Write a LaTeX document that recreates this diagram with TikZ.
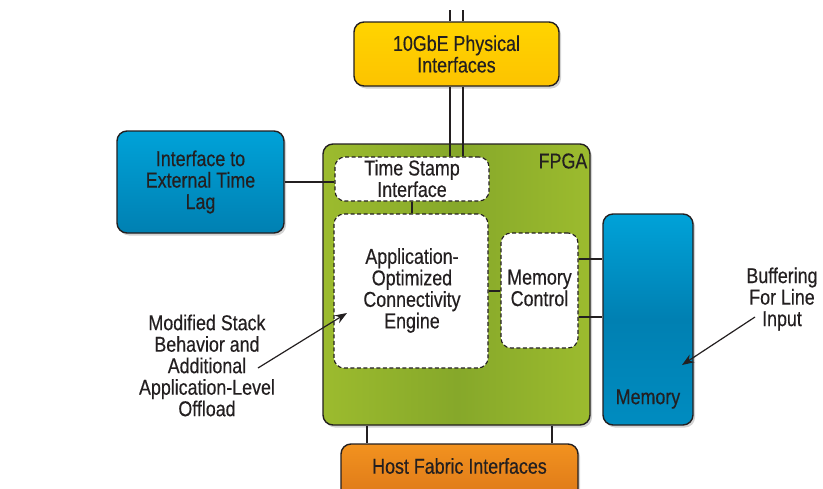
\documentclass[tikz,border=0pt]{standalone}
\usepackage{fontspec}
\setmainfont[FakeStretch=0.83,FakeBold=0.4]{Liberation Sans}
\usetikzlibrary{shadows,arrows.meta}
\definecolor{ink}{HTML}{231F20}
\definecolor{yelT}{HTML}{FFD400}
\definecolor{yelM}{HTML}{FDC300}
\definecolor{bluT}{HTML}{00A2D8}
\definecolor{bluM}{HTML}{0080B2}
\definecolor{bluB}{HTML}{008CC0}
\definecolor{grnE}{HTML}{9CBB2E}
\definecolor{grnM}{HTML}{86A82A}
\definecolor{orT}{HTML}{F2921F}
\definecolor{orM}{HTML}{DD7818}
\tikzset{
  txt/.style={font=\fontsize{21.5}{21.5}\selectfont, text=ink, align=center, inner sep=0pt},
  box/.style={draw=ink, line width=1.4pt, rounded corners=10pt, inner sep=0pt,
              drop shadow={shadow xshift=2pt, shadow yshift=-2.5pt, opacity=0.35}},
  dbox/.style={draw=ink, line width=1.1pt, dash pattern=on 4pt off 2.5pt, rounded corners=10pt,
              fill=white, inner sep=0pt},
  wire/.style={draw=ink, line width=2pt},
  pointer/.style={draw=ink, line width=1.2pt, -{Stealth[length=12pt,width=9pt]}},
}
\begin{document}
\begin{tikzpicture}[x=1pt,y=-1pt]
\useasboundingbox (0,0) rectangle (823,488);
% boxes
\node[box, top color=yelT, bottom color=yelM, minimum width=205pt, minimum height=64pt, txt] (phy) at (456.5,54) {10GbE Physical\\Interfaces};
\node[box, top color=bluT, bottom color=bluM, minimum width=167pt, minimum height=102pt, txt] (ext) at (200.5,182) {Interface to\\External Time\\Lag};
\node[box, left color=grnE, right color=grnE, middle color=grnM, minimum width=267pt, minimum height=281pt] (fpga) at (456.5,284.5) {};
\node[box, top color=bluT, bottom color=bluB, middle color=bluM, minimum width=90pt, minimum height=211pt] (mem) at (648,319.5) {};
\node[box, top color=orT, bottom color=orM, minimum width=237pt, minimum height=56pt] (host) at (459.5,472) {};
% inner dashed boxes
\node[dbox, minimum width=154pt, minimum height=44pt] (ts) at (412,179) {};
\node[dbox, minimum width=154pt, minimum height=154pt] (app) at (411,291) {};
\node[dbox, minimum width=77pt, minimum height=115pt] (mc) at (539.5,290.5) {};
% texts
\node[txt] (fpgalbl) at (563,161) {FPGA};
\node[txt] (tstxt) at (412,178.5) {Time Stamp\\Interface};
\node[txt] (apptxt) at (412,290.5) {Application-\\Optimized\\Connectivity\\Engine};
\node[txt] (mctxt) at (539.5,288) {Memory\\Control};
\node[txt] (memtxt) at (648,399) {Memory};
\node[txt] (hosttxt) at (459.5,466) {Host Fabric Interfaces};
\node[txt] (buf) at (782,299) {Buffering\\For Line\\Input};
\node[txt] (mod) at (207,365.5) {Modified Stack\\Behavior and\\Additional\\Application-Level\\Offload};
% wires
\coordinate (topA) at (450,10);
\coordinate (topB) at (463,10);
\draw[wire] (topA) -- (topA |- phy.north);
\draw[wire] (topB) -- (topB |- phy.north);
\draw[wire] (topA |- phy.south) -- (topA |- ts.north);
\draw[wire] (topB |- phy.south) -- (topB |- ts.north);
\draw[wire] (ext.east) -- (ts.west |- ext.east);
\draw[wire] (ts.south) -- (ts.south |- app.north);
\draw[wire] (app.east |- 0,291) -- (mc.west |- 0,291);
\draw[wire] (mc.east |- 0,259) -- (mem.west |- 0,259);
\draw[wire] (mc.east |- 0,317) -- (mem.west |- 0,317);
\draw[wire] (fpga.south -| 367,0) -- (host.north -| 367,0);
\draw[wire] (fpga.south -| 552,0) -- (host.north -| 552,0);
% pointers
\coordinate (bufend) at (682,365);
\coordinate (modend) at (347,313);
\draw[pointer] (755,317) -- (bufend);
\draw[pointer] (258,368) -- (modend);
\end{tikzpicture}
\end{document}
